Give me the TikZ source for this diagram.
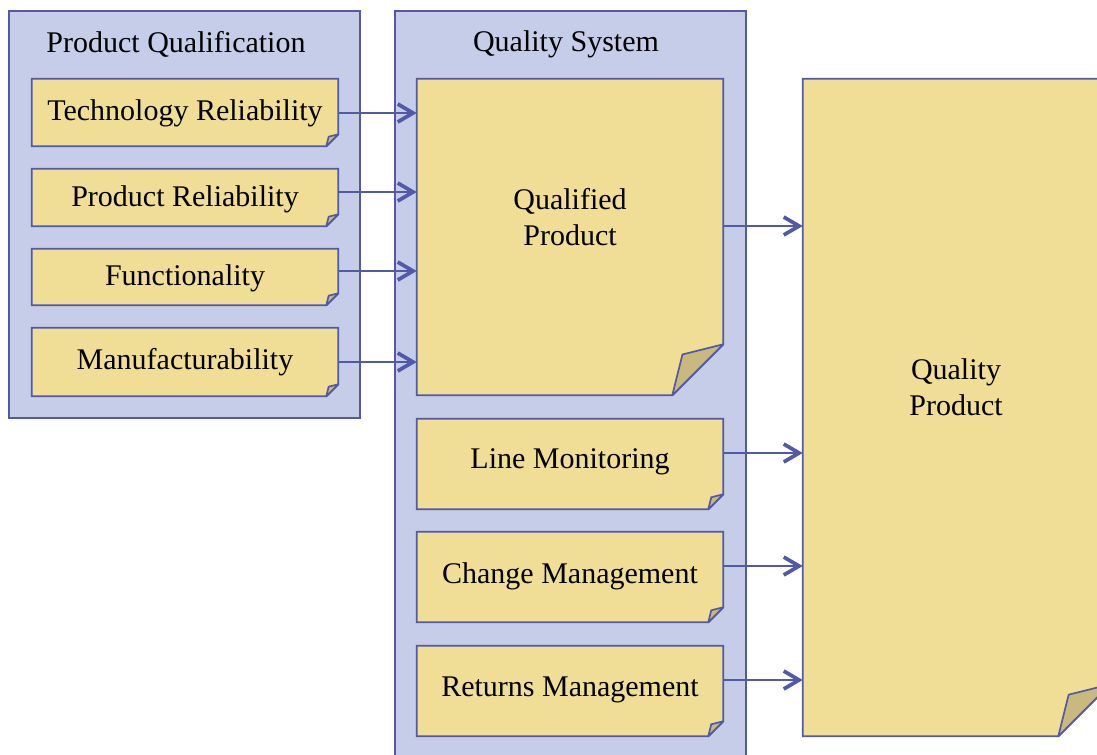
\documentclass[tikz,border=0pt]{standalone}
\usepackage{fontspec}
\setmainfont{Liberation Serif}
\usetikzlibrary{arrows.meta,calc,fit}
\definecolor{panelfill}{HTML}{C5CDE8}
\definecolor{edge}{HTML}{5259A6}
\definecolor{notefill}{HTML}{F0DE96}
\definecolor{foldfill}{HTML}{C9B97E}
\newcommand\notepaper[2]{%
  \filldraw[notestyle] (#1.north west) -- (#1.north east) -- ($(#1.south east)+(0,-#2)$) -- ($(#1.south east)+(-#2,0)$) -- (#1.south west) -- cycle;
  \filldraw[foldstyle] ($(#1.south east)+(-#2,0)$) -- ($(#1.south east)+(-0.8*#2,-0.8*#2)$) -- ($(#1.south east)+(0,-#2)$) -- cycle;
}
\begin{document}
\begin{tikzpicture}[x=0.75pt,y=-0.75pt,
  panel/.style={draw=edge,fill=panelfill,line width=1.2pt,inner sep=0pt},
  area/.style={inner sep=0pt},
  notestyle/.style={draw=edge,fill=notefill,line width=1.3pt,line join=miter},
  foldstyle/.style={draw=edge,fill=foldfill,line width=1.3pt,line join=round},
  txt/.style={font=\fontsize{22.5}{27}\selectfont,inner sep=0pt,align=center,text=black},
  arr/.style={draw=edge,line width=1.6pt,-{Straight Barb[length=11.5pt,width=13.5pt,line width=2.8pt]}}]
\clip (0,0) rectangle (1097,754);
\path[use as bounding box] (0,0) rectangle (1097,754);
% panels
\node[panel,fit={(9,11) (360,418)}] (pq) {};
\node[panel,fit={(395,11) (746,775)}] (qs) {};
\node[txt] (pqt) at (176,44) {Product Qualification};
\node[txt] (qst) at (566,44) {Quality System};
% note areas
\node[area,fit={(32,79) (338,146)}] (tr) {};
\node[area,fit={(32,169) (338,226)}] (pr) {};
\node[area,fit={(32,249) (338,305)}] (fn) {};
\node[area,fit={(32,328) (338,396)}] (mf) {};
\node[area,fit={(417,79) (723,395)}] (qp) {};
\node[area,fit={(417,419) (723,509)}] (lm) {};
\node[area,fit={(417,532) (723,622)}] (cm) {};
\node[area,fit={(417,646) (723,736)}] (rm) {};
\node[area,fit={(803,79) (1110,736)}] (qy) {};
% arrows
\draw[arr] ($(tr.east)+(0,0.5)$) coordinate (a1) -- (a1 -| qp.west);
\draw[arr] ($(pr.east)+(0,-5.5)$) coordinate (a2) -- (a2 -| qp.west);
\draw[arr] ($(fn.east)+(0,-6)$) coordinate (a3) -- (a3 -| qp.west);
\draw[arr] ($(mf.east)+(0,0)$) coordinate (a4) -- (a4 -| qp.west);
\draw[arr] ($(qp.east)+(0,-11)$) coordinate (b1) -- (b1 -| qy.west);
\draw[arr] ($(lm.east)+(0,-11)$) coordinate (b2) -- (b2 -| qy.west);
\draw[arr] ($(cm.east)+(0,-11)$) coordinate (b3) -- (b3 -| qy.west);
\draw[arr] ($(rm.east)+(0,-11)$) coordinate (b4) -- (b4 -| qy.west);
% notes
\notepaper{tr}{12}
\notepaper{pr}{12}
\notepaper{fn}{12}
\notepaper{mf}{12}
\notepaper{qp}{51}
\notepaper{lm}{15}
\notepaper{cm}{15}
\notepaper{rm}{15}
\notepaper{qy}{52}
% texts
\node[txt] (trt) at (185,113) {Technology Reliability};
\node[txt] (prt) at (185,199) {Product Reliability};
\node[txt] (fnt) at (185,278) {Functionality};
\node[txt] (mft) at (185,362) {Manufacturability};
\node[txt] (qpt) at (570,217) {Qualified\\Product};
\node[txt] (lmt) at (570,462) {Line Monitoring};
\node[txt] (cmt) at (570,576) {Change Management};
\node[txt] (rmt) at (570,690) {Returns Management};
\node[txt] (qyt) at (956,387) {Quality\\Product};
\end{tikzpicture}
\end{document}
